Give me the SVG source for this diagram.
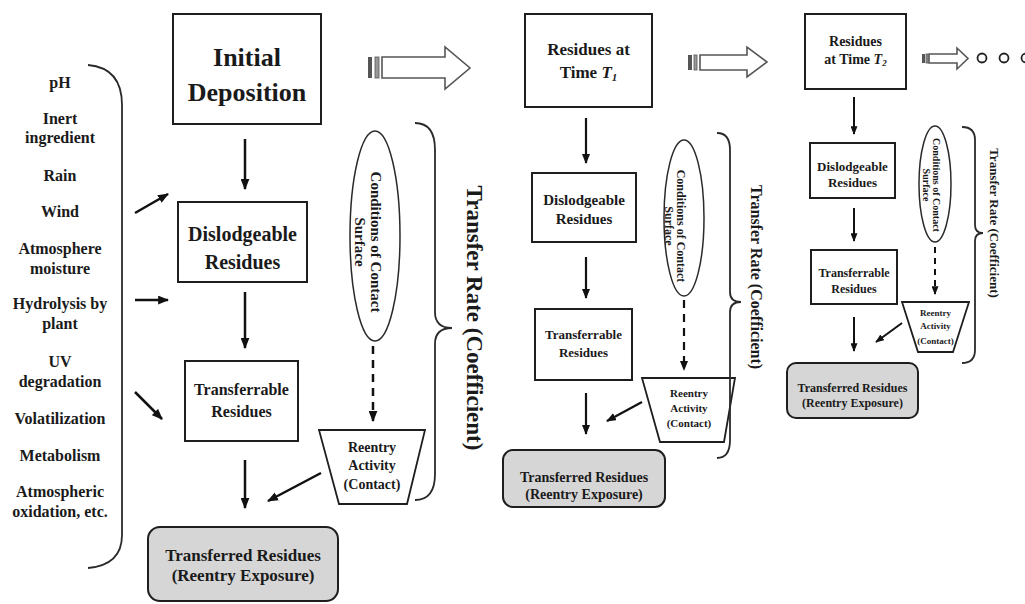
<svg xmlns="http://www.w3.org/2000/svg" width="1025" height="604" viewBox="0 0 1025 604">
<style>
.t{font-family:"Liberation Serif","Times New Roman",serif;font-weight:bold;fill:#1a1a1a;text-anchor:middle}
.box{fill:#fff;stroke:#1e1e1e;stroke-width:2}
.gbox{fill:#d6d6d6;stroke:#1e1e1e;stroke-width:2}
.ell{fill:#fff;stroke:#2a2a2a;stroke-width:1.5}
.trap{fill:#fff;stroke:#1e1e1e;stroke-width:1.8}
.br{fill:none;stroke:#2a2a2a;stroke-width:1.8}
.blk{fill:#fff;stroke:#555;stroke-width:1.6}
.bar1{fill:#555}
.bar2{fill:#999;stroke:#555;stroke-width:0.8}
.a1{stroke:#111;stroke-width:2.5;fill:none;marker-end:url(#h1)}
.a2{stroke:#111;stroke-width:2.2;fill:none;marker-end:url(#h2)}
.a3{stroke:#111;stroke-width:2;fill:none;marker-end:url(#h3)}
.d1{stroke-dasharray:8 6}
.d3{stroke-dasharray:6 5}
</style>
<defs>
<marker id="h1" viewBox="0 0 10 8" refX="9" refY="4" markerWidth="11" markerHeight="9" markerUnits="userSpaceOnUse" orient="auto"><path d="M0,0 L10,4 L0,8 z" fill="#111"/></marker>
<marker id="h2" viewBox="0 0 10 8" refX="9" refY="4" markerWidth="10" markerHeight="8" markerUnits="userSpaceOnUse" orient="auto"><path d="M0,0 L10,4 L0,8 z" fill="#111"/></marker>
<marker id="h3" viewBox="0 0 10 8" refX="9" refY="4" markerWidth="9" markerHeight="7" markerUnits="userSpaceOnUse" orient="auto"><path d="M0,0 L10,4 L0,8 z" fill="#111"/></marker>
</defs>
<rect width="1025" height="604" fill="#fff"/>

<!-- Left factors list -->
<g id="factors">
<path class="br" d="M88,65 Q122,68 122,105 L122,535 Q122,565 88,568"/>
<g class="t" font-size="16">
<text x="60" y="88">pH</text>
<text x="60" y="124">Inert</text>
<text x="60" y="143">ingredient</text>
<text x="60" y="181">Rain</text>
<text x="60" y="217">Wind</text>
<text x="60" y="254">Atmosphere</text>
<text x="60" y="274">moisture</text>
<text x="60" y="309">Hydrolysis by</text>
<text x="60" y="329">plant</text>
<text x="60" y="367">UV</text>
<text x="60" y="387">degradation</text>
<text x="60" y="424">Volatilization</text>
<text x="60" y="461">Metabolism</text>
<text x="60" y="497">Atmospheric</text>
<text x="60" y="517">oxidation, etc.</text>
</g>
</g>

<!-- Section 1 -->
<g id="initial-deposition">
<rect class="box" x="173" y="14" width="148" height="110"/>
<text class="t" font-size="26" x="247" y="66">Initial</text>
<text class="t" font-size="26" x="247" y="101">Deposition</text>
</g>
<g id="dislodgeable-1">
<rect class="box" x="178" y="202" width="129" height="80"/>
<text class="t" font-size="20" x="242.5" y="241">Dislodgeable</text>
<text class="t" font-size="20" x="242.5" y="269">Residues</text>
</g>
<g id="transferrable-1">
<rect class="box" x="185" y="361" width="113" height="80"/>
<text class="t" font-size="16" x="241.5" y="395">Transferrable</text>
<text class="t" font-size="16" x="241.5" y="417">Residues</text>
</g>
<g id="transferred-1">
<rect class="gbox" x="148" y="527" width="190" height="74" rx="12"/>
<text class="t" font-size="17" x="243" y="561">Transferred Residues</text>
<text class="t" font-size="17" x="243" y="581">(Reentry Exposure)</text>
</g>
<g id="conditions-1">
<ellipse class="ell" cx="375" cy="236" rx="25" ry="105"/>
<text class="t" font-size="15" transform="translate(375,242) rotate(90)"><tspan x="0" y="4">Conditions of Contact</tspan><tspan x="0" y="20">Surface</tspan></text>
</g>
<g id="reentry-1">
<polygon class="trap" points="319,430 425,430 407,504 339,504"/>
<text class="t" font-size="14" x="372" y="452">Reentry</text>
<text class="t" font-size="14" x="372" y="470">Activity</text>
<text class="t" font-size="14" x="372" y="489">(Contact)</text>
</g>
<g id="transfer-rate-1">
<path class="br" d="M415,123 Q435,123 435,150 L435,312 Q435,328 452,328 Q435,328 435,344 L435,474 Q435,500 415,500"/>
<text class="t" font-size="23" transform="translate(467,318) rotate(90)">Transfer Rate (Coefficient)</text>
</g>

<!-- Section 2 -->
<g id="residues-t1">
<rect class="box" x="525" y="14" width="127" height="93"/>
<text class="t" font-size="17" x="588.5" y="55">Residues at</text>
<text class="t" font-size="17" x="588.5" y="78">Time <tspan font-style="italic">T</tspan><tspan font-style="italic" font-size="11" dy="3">1</tspan></text>
</g>
<g id="dislodgeable-2">
<rect class="box" x="532" y="173" width="104" height="69"/>
<text class="t" font-size="15" x="584" y="205">Dislodgeable</text>
<text class="t" font-size="15" x="584" y="224">Residues</text>
</g>
<g id="transferrable-2">
<rect class="box" x="535" y="309" width="97" height="71"/>
<text class="t" font-size="13" x="583.5" y="339">Transferrable</text>
<text class="t" font-size="13" x="583.5" y="357">Residues</text>
</g>
<g id="transferred-2">
<rect class="gbox" x="503" y="450" width="162" height="57" rx="10"/>
<text class="t" font-size="14" x="584" y="482">Transferred Residues</text>
<text class="t" font-size="14" x="584" y="499">(Reentry Exposure)</text>
</g>
<g id="conditions-2">
<ellipse class="ell" cx="684" cy="218" rx="20" ry="78"/>
<text class="t" font-size="12" transform="translate(684,226) rotate(90)"><tspan x="0" y="7">Conditions of Contact</tspan><tspan x="0" y="19">Surface</tspan></text>
</g>
<g id="reentry-2">
<polygon class="trap" points="642,378 735,378 724,442 660,442"/>
<text class="t" font-size="11" x="689" y="397">Reentry</text>
<text class="t" font-size="11" x="689" y="412">Activity</text>
<text class="t" font-size="11" x="689" y="427">(Contact)</text>
</g>
<g id="transfer-rate-2">
<path class="br" d="M717,133 Q730,133 730,150 L730,292 Q730,302 741,302 Q730,302 730,312 L730,440 Q730,458 717,458"/>
<text class="t" font-size="16" transform="translate(751,277) rotate(90)">Transfer Rate (Coefficient)</text>
</g>

<!-- Section 3 -->
<g id="residues-t2">
<rect class="box" x="805" y="14" width="101" height="75"/>
<text class="t" font-size="14" x="855.5" y="46">Residues</text>
<text class="t" font-size="14" x="855.5" y="64">at Time <tspan font-style="italic">T</tspan><tspan font-style="italic" font-size="9" dy="2">2</tspan></text>
</g>
<g id="dislodgeable-3">
<rect class="box" x="810" y="143" width="85" height="55"/>
<text class="t" font-size="13" x="852.5" y="171">Dislodgeable</text>
<text class="t" font-size="13" x="852.5" y="187">Residues</text>
</g>
<g id="transferrable-3">
<rect class="box" x="811" y="250" width="86" height="54"/>
<text class="t" font-size="12" x="854" y="277">Transferrable</text>
<text class="t" font-size="12" x="854" y="293">Residues</text>
</g>
<g id="transferred-3">
<rect class="gbox" x="787" y="363" width="131" height="55" rx="9"/>
<text class="t" font-size="12" x="852.5" y="392">Transferred Residues</text>
<text class="t" font-size="12" x="852.5" y="407">(Reentry Exposure)</text>
</g>
<g id="conditions-3">
<ellipse class="ell" cx="935" cy="184" rx="16" ry="58"/>
<text class="t" font-size="10" transform="translate(935,185) rotate(90)"><tspan x="0" y="2">Conditions of Contact</tspan><tspan x="0" y="12">Surface</tspan></text>
</g>
<g id="reentry-3">
<polygon class="trap" points="902,302 969,302 953,352 918,352"/>
<text class="t" font-size="9" x="935.5" y="316">Reentry</text>
<text class="t" font-size="9" x="935.5" y="329">Activity</text>
<text class="t" font-size="9" x="935.5" y="344">(Contact)</text>
</g>
<g id="transfer-rate-3">
<path class="br" d="M962,127 Q975,127 975,140 L975,225 Q975,233 983,233 Q975,233 975,241 L975,350 Q975,363 962,363"/>
<text class="t" font-size="13" transform="translate(990,223) rotate(90)">Transfer Rate (Coefficient)</text>
</g>

<!-- Time-step block arrows -->
<g id="time-arrows">
<rect class="bar1" x="368" y="57" width="4" height="21"/>
<rect class="bar2" x="375" y="57" width="4" height="21"/>
<polygon class="blk" points="382,57 445,57 445,47 470,68 445,89 445,78 382,78"/>
<rect class="bar1" x="688" y="55" width="4" height="15"/>
<rect class="bar2" x="694" y="55" width="3" height="15"/>
<polygon class="blk" points="700,55 747,55 747,47 767,62 747,77 747,70 700,70"/>
<rect class="bar1" x="922" y="54" width="3" height="9"/>
<rect class="bar2" x="926" y="54" width="2" height="9"/>
<polygon class="blk" points="929,54 957,54 957,48 968,58.5 957,69 957,63 929,63"/>
<g fill="none" stroke="#222" stroke-width="1.8">
<circle cx="982" cy="58" r="4.5"/>
<circle cx="1004" cy="58" r="4.5"/>
<circle cx="1026" cy="58" r="4.5"/>
</g>
</g>

<!-- Connectors -->
<g id="connectors">
<line class="a1" x1="135" y1="213" x2="168" y2="194"/>
<line class="a1" x1="135" y1="300" x2="168" y2="300"/>
<line class="a1" x1="135" y1="392" x2="162" y2="419"/>
<line class="a1" x1="245" y1="139" x2="245" y2="189"/>
<line class="a1" x1="245" y1="292" x2="245" y2="348"/>
<line class="a1" x1="245" y1="460" x2="245" y2="508"/>
<line class="a1 d1" x1="373" y1="346" x2="373" y2="421"/>
<line class="a1" x1="321" y1="473" x2="268" y2="501"/>
<line class="a2" x1="586" y1="118" x2="586" y2="163"/>
<line class="a2" x1="586" y1="257" x2="586" y2="298"/>
<line class="a2" x1="586" y1="393" x2="586" y2="434"/>
<line class="a2 d1" x1="684" y1="300" x2="684" y2="370"/>
<line class="a2" x1="642" y1="402" x2="607" y2="421"/>
<line class="a3" x1="854" y1="97" x2="854" y2="134"/>
<line class="a3" x1="854" y1="208" x2="854" y2="241"/>
<line class="a3" x1="854" y1="317" x2="854" y2="351"/>
<line class="a3 d3" x1="935" y1="247" x2="935" y2="294"/>
<line class="a3" x1="902" y1="323" x2="876" y2="342"/>
</g>
</svg>
